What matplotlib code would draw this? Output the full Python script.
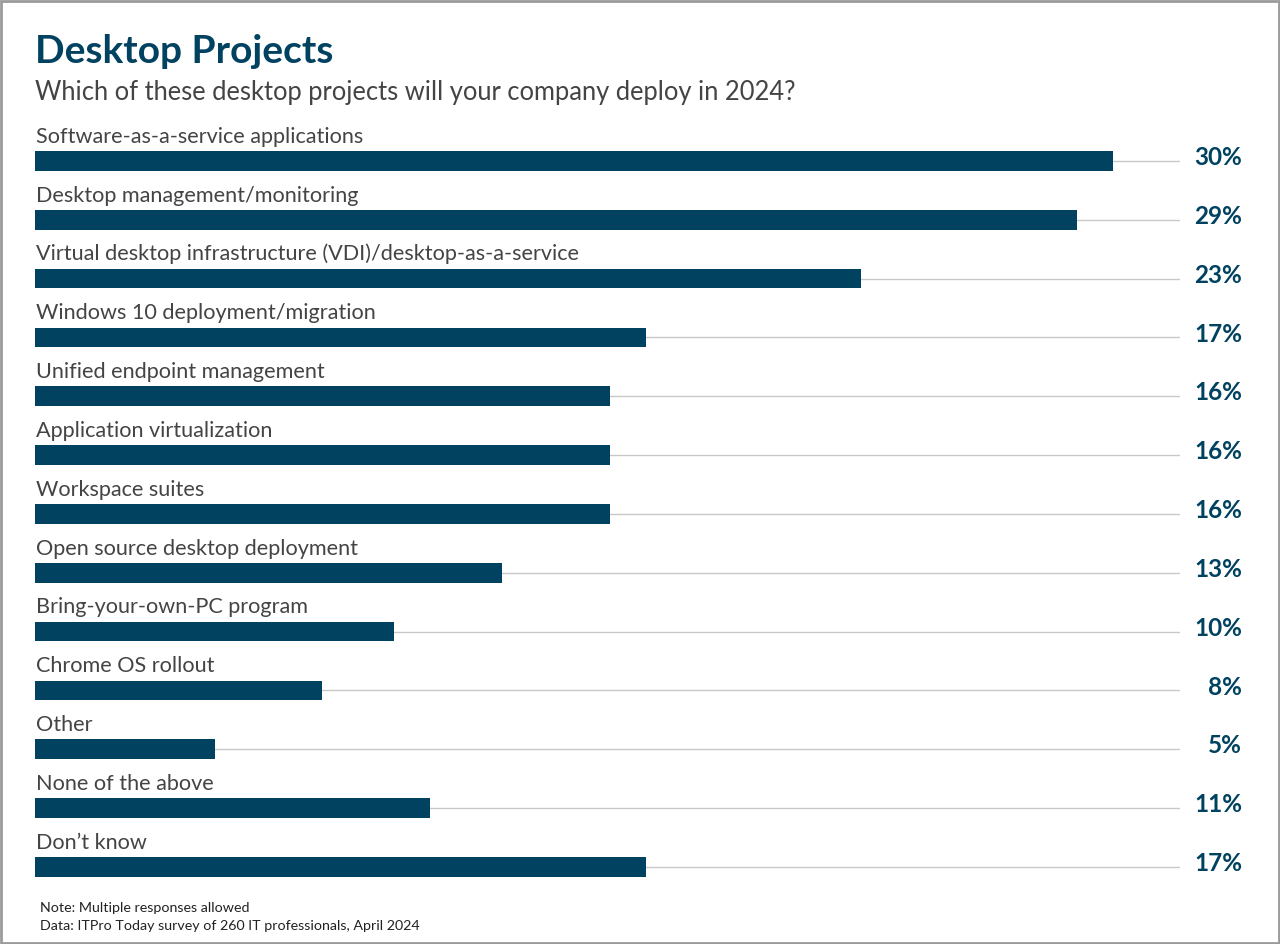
import matplotlib
matplotlib.use("Agg")
import matplotlib.pyplot as plt
from matplotlib.patches import Rectangle

plt.rcParams['font.family'] = ['Lato', 'DejaVu Sans']

categories = [
    "Software-as-a-service applications",
    "Desktop management/monitoring",
    "Virtual desktop infrastructure (VDI)/desktop-as-a-service",
    "Windows 10 deployment/migration",
    "Unified endpoint management",
    "Application virtualization",
    "Workspace suites",
    "Open source desktop deployment",
    "Bring-your-own-PC program",
    "Chrome OS rollout",
    "Other",
    "None of the above",
    "Don\u2019t know",
]
values = [30, 29, 23, 17, 16, 16, 16, 13, 10, 8, 5, 11, 17]

navy = '#00425f'
label_gray = '#444444'
line_gray = '#c8c8c8'

fig = plt.figure(figsize=(12.8, 9.44), dpi=100)
ax = fig.add_axes([0.0273, 0.0442, 0.8945, 0.8476])

xmax = 31.87
ypos = list(range(len(categories)))
ax.hlines(ypos, 0, xmax, color=line_gray, linewidth=1, zorder=1)
ax.barh(ypos, values, height=0.335, color=navy, zorder=2)

for y, cat, v in zip(ypos, categories, values):
    ax.text(0.03, y - 0.31, cat, ha='left', va='baseline', fontsize=15.6,
            color=label_gray)
    ax.text(33.6, y + 0.07, f"{v}%", ha='right', va='baseline', fontsize=17.5,
            fontweight='bold', color=navy, clip_on=False)

ax.set_xlim(0, xmax)
ax.set_ylim(12.6, -1.0)
ax.axis('off')

fig.text(0.0273, 0.9333, "Desktop Projects", fontsize=28, fontweight='bold',
         color=navy, ha='left', va='baseline')
fig.text(0.0273, 0.894, "Which of these desktop projects will your company deploy in 2024?",
         fontsize=18.4, color=label_gray, ha='left', va='baseline')
fig.text(0.031, 0.0339, "Note: Multiple responses allowed", fontsize=10.3,
         color='#222222', ha='left', va='baseline')
fig.text(0.031, 0.0148, "Data: ITPro Today survey of 260 IT professionals, April 2024",
         fontsize=10.3, color='#222222', ha='left', va='baseline')

fig.patches.append(Rectangle((0.001, 0.001), 0.998, 0.998, transform=fig.transFigure,
                             fill=False, edgecolor='#9a9a9a', linewidth=2))

fig.savefig("out.png", dpi=100)
